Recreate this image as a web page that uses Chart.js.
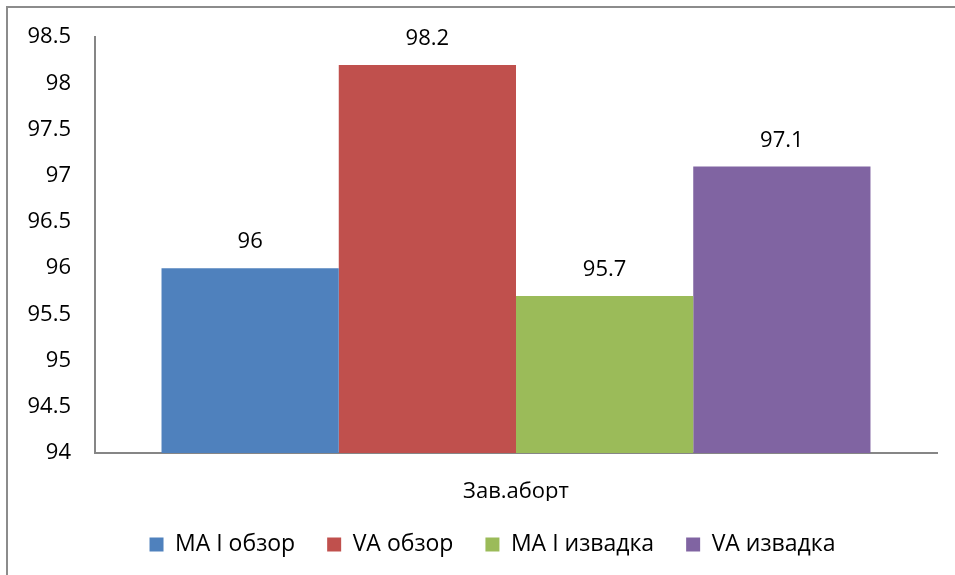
<!DOCTYPE html>
<html>
<head>
<meta charset="utf-8">
<script src="https://cdn.jsdelivr.net/npm/chart.js@4/dist/chart.umd.min.js"></script>
<style>
  html, body { margin: 0; padding: 0; background: #fff; }
  #wrap { width: 955px; height: 575px; position: relative; }
</style>
</head>
<body>
<div id="wrap"><canvas id="chart" width="955" height="575"></canvas></div>
<script>
const categories = ['Зав.аборт'];
const seriesNames = ['МА I обзор', 'VA обзор', 'МА I извадка', 'VA извадка'];
const seriesValues = [[96], [98.2], [95.7], [97.1]];
const seriesColors = ['#4F81BD', '#C0504D', '#9BBB59', '#8064A2'];
const yMin = 94, yMax = 98.5, yStep = 0.5;

const FONT = "'Open Sans', 'Noto Sans', sans-serif";

// frame around the chart (only top and left visible in the picture)
const framePlugin = {
  id: 'frame',
  beforeDraw(chart) {
    const ctx = chart.ctx;
    ctx.save();
    ctx.strokeStyle = '#8c8c8c';
    ctx.lineWidth = 2;
    ctx.beginPath();
    ctx.moveTo(7, 575);
    ctx.lineTo(7, 7);
    ctx.lineTo(955, 7);
    ctx.stroke();
    ctx.restore();
  }
};

// legend sits a bit right of centre in the original
const legendShift = {
  id: 'legendShift',
  afterLayout(chart) {
    if (chart.legend) {
      chart.legend.left += 24;
      chart.legend.right += 24;
    }
  }
};

// value labels above each bar
const valueLabels = {
  id: 'valueLabels',
  afterDatasetsDraw(chart) {
    const ctx = chart.ctx;
    ctx.save();
    ctx.font = '22px ' + FONT;
    ctx.fillStyle = '#000';
    ctx.textAlign = 'center';
    ctx.textBaseline = 'middle';
    chart.data.datasets.forEach((ds, i) => {
      chart.getDatasetMeta(i).data.forEach((bar, j) => {
        ctx.fillText(String(ds.data[j]), bar.x, bar.y - 26);
      });
    });
    ctx.restore();
  }
};

new Chart(document.getElementById('chart'), {
  type: 'bar',
  data: {
    labels: categories,
    datasets: seriesNames.map((name, i) => ({
      label: name,
      data: seriesValues[i],
      backgroundColor: seriesColors[i],
      borderWidth: 0,
      categoryPercentage: 0.842,
      barPercentage: 1
    }))
  },
  options: {
    responsive: false,
    animation: false,
    layout: { padding: { top: 36, right: 18, bottom: 9, left: 0 } },
    plugins: {
      legend: {
        position: 'bottom',
        labels: {
          boxWidth: 14,
          boxHeight: 14,
          padding: 32,
          color: '#000',
          font: { family: FONT, size: 23 }
        }
      },
      tooltip: { enabled: false }
    },
    scales: {
      x: {
        grid: { display: false, drawTicks: false },
        border: { color: '#868686', width: 2 },
        ticks: { color: '#000', padding: 26, font: { family: FONT, size: 22 } },
        afterFit(scale) { scale.height = 48; }
      },
      y: {
        min: yMin,
        max: yMax,
        grid: { display: false, drawTicks: false },
        border: { color: '#868686', width: 2 },
        ticks: {
          stepSize: yStep,
          color: '#000',
          padding: 24,
          font: { family: FONT, size: 22 },
          callback: (v) => String(Number(v))
        },
        afterFit(scale) { scale.width = 95; }
      }
    }
  },
  plugins: [framePlugin, legendShift, valueLabels]
});
</script>
</body>
</html>
